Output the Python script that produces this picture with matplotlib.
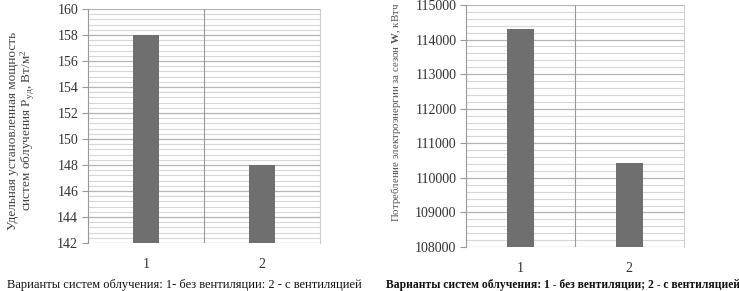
import matplotlib.pyplot as plt
from matplotlib.ticker import MultipleLocator

plt.rcParams['font.family'] = ['Liberation Serif', 'DejaVu Serif']
plt.rcParams['mathtext.fontset'] = 'custom'
plt.rcParams['mathtext.rm'] = 'Liberation Serif'
plt.rcParams['mathtext.it'] = 'Liberation Serif:italic'
plt.rcParams['mathtext.bf'] = 'Liberation Serif:bold'

categories = ["1", "2"]
power_values = [158, 148]
energy_values = [114300, 110430]

BAR_COLOR = "#6f6f6f"
MAJOR_GRID = "#b4b4b4"
MINOR_GRID = "#d6d6d6"
TEXT_COLOR = "#333333"


def style_axes(ax, ymin, ymax, major, minor):
    ax.set_ylim(ymin, ymax)
    ax.set_xlim(-0.5, 1.5)
    ax.yaxis.set_major_locator(MultipleLocator(major))
    ax.yaxis.set_minor_locator(MultipleLocator(minor))
    ax.grid(which="major", axis="y", color=MAJOR_GRID, linewidth=0.9)
    ax.grid(which="minor", axis="y", color=MINOR_GRID, linewidth=0.8)
    ax.set_axisbelow(True)
    ax.axvline(0.5, color="#999999", linewidth=0.8)
    for side in ("top", "bottom"):
        ax.spines[side].set_visible(False)
    ax.spines["left"].set_color("#999999")
    ax.spines["right"].set_color("#cccccc")
    ax.tick_params(axis="y", which="major", length=4, color="#999999",
                   labelsize=10, labelcolor=TEXT_COLOR, pad=3)
    ax.tick_params(axis="y", which="minor", length=0)
    ax.tick_params(axis="x", length=0, labelsize=10, labelcolor=TEXT_COLOR, pad=11)


fig = plt.figure(figsize=(7.39, 2.91), dpi=100)

ax1 = fig.add_axes([0.119, 0.165, 0.314, 0.804])
ax1.bar(categories, power_values, width=0.23, color=BAR_COLOR)
style_axes(ax1, 142, 160, 2, 0.4)
ax1.set_ylabel("Удельная установленная мощность\nсистем облучения P$_{\\mathrm{уд}}$, Вт/м$^2$",
               fontsize=9.5, color="#444444", linespacing=1.0)
ax1.yaxis.set_label_coords(-0.22, 0.48)
fig.text(0.249, 0.022, "Варианты систем облучения: 1- без вентиляции: 2 - с вентиляцией",
         ha="center", va="center", fontsize=9, color="#111111")

ax2 = fig.add_axes([0.631, 0.151, 0.294, 0.832])
ax2.bar(categories, energy_values, width=0.25, color=BAR_COLOR)
style_axes(ax2, 108000, 115000, 1000, 200)
ax2.set_ylabel("Потребление электроэнергии за сезон $\\mathbf{W}$, кВтч",
               fontsize=7.8, color="#555555")
ax2.yaxis.set_label_coords(-0.29, 0.555)
fig.text(0.762, 0.022, "Варианты систем облучения: 1 - без вентиляции; 2 - с вентиляцией",
         ha="center", va="center", fontsize=8.4, fontweight="bold", color="#111111")

fig.savefig("out.png", dpi=100, facecolor="white")
